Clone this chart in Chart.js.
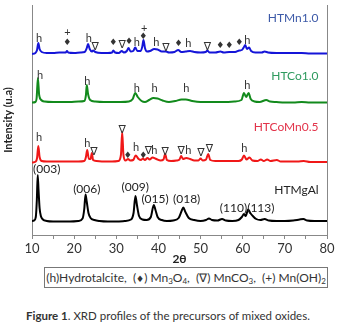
<!DOCTYPE html>
<html>
<head>
<meta charset="utf-8">
<script src="https://cdn.jsdelivr.net/npm/chart.js@4/dist/chart.umd.min.js"></script>
<style>
  body { margin: 0; background: #fff; }
  #wrap { position: relative; width: 340px; height: 333px; font-family: Lato, "Open Sans", sans-serif; color: #333; }
  #legend-box { position: absolute; left: 44px; top: 267px; width: 282px; height: 19px; border: 1px solid #777;
    font-size: 12px; line-height: 19px; white-space: pre; text-align: center; color: #333; }
  #legend-box sub { font-size: 8px; vertical-align: -2px; line-height: 0; }
  #caption { position: absolute; left: 26px; top: 309px; font-size: 11.5px; color: #333; white-space: pre; }
</style>
</head>
<body>
<div id="wrap">
  <canvas id="xrd" width="340" height="266"></canvas>
  <div id="legend-box">(h)Hydrotalcite,  (<span style="font-family:'DejaVu Sans';font-size:9px">♦</span>) Mn<sub>3</sub>O<sub>4</sub>,  (∇) MnCO<sub>3</sub>,  (+) Mn(OH)<sub>2</sub></div>
  <div id="caption"><b>Figure 1</b>. XRD profiles of the precursors of mixed oxides.</div>
</div>
<script>
// 2θ / intensity (a.u., stacked) pairs
const htmn10 = [
  [10,181],[10.8,182],[11.2,185],[11.5,192],[11.8,186],[12.3,183],[13.5,182],[15,182],[16.5,182.5],
  [18,182.5],[18.3,184],[18.6,182.5],[20,182],[21.5,182.5],[22.5,183],[23,187],[23.3,191],[23.7,186],
  [24.2,183.5],[24.5,184.5],[25,183],[26.5,182],[28,182],[29,182.5],[29.3,184.5],[29.7,182.5],[30.6,182],
  [31.3,184],[31.8,182.5],[32.5,184],[32.9,187],[33.4,183.5],[34,184],[34.5,187.5],[35,184],[35.8,184],
  [36.2,189],[36.45,195],[36.8,187],[37.3,183.5],[38,184],[39,186],[39.8,185.5],[40.8,183.5],[41.8,183.5],
  [42.5,182.5],[43.8,183],[44.7,185],[45.4,183],[46.5,183.5],[47.5,184],[48.5,183],[50,182.5],[51.2,183],
  [51.6,184.5],[52.1,182.5],[53.5,182.5],[54.7,183.5],[55.5,182.5],[56.8,183],[58.2,183],[59.2,184.5],
  [59.8,185],[60.3,188],[60.6,190],[61,186],[61.5,187.5],[62,184],[63,182.5],[64.5,182.5],[65.2,183.5],
  [66,182.5],[68,182],[70,182],[72,182],[74,182],[76,181.5],[78,181.5],[80,181.5]
];
const htco10 = [
  [10,132.5],[10.8,133],[11.1,137],[11.4,157],[11.7,140],[12.2,135],[13,133.5],[15,133],[17,133],[19,133],
  [21,133.5],[22.4,134],[22.8,140],[23,150],[23.3,141],[23.8,135],[25,133.5],[27,133],[29,133],[31,133],
  [33,133.5],[33.9,136],[34.5,142],[35.1,138],[36,134],[36.8,133],[37.8,135],[38.8,137],[39.8,136.5],
  [41,134.5],[42.5,133],[44,134],[45.5,135.5],[46.5,135.5],[48,134],[50,133],[52,133],[54,133],[56,133],
  [58,133.5],[59.7,135],[60.3,142],[60.8,138],[61.4,142],[61.9,136],[62.8,133.5],[64,133],[65.6,135],
  [66.5,133.5],[68,133],[70,132.5],[72,132.5],[74,133],[76,132.5],[78,132.5],[80,132.5]
];
const htcomn05 = [
  [10,72.5],[10.9,73.5],[11.2,77],[11.5,89],[11.8,78],[12.3,74],[13.5,73.5],[15,73.5],[17,73.5],[19,73.5],
  [21,73.5],[22.4,74],[22.8,78],[23.1,85],[23.5,76],[23.9,76],[24.2,82],[24.5,75],[25.3,74],[27,73.5],
  [29,73.5],[30.5,74],[31.1,80],[31.4,103],[31.7,80],[32.2,74.5],[32.8,76],[33.3,74.5],[34,75],[34.6,79.5],
  [35.3,76],[35.9,75],[36.3,76.5],[36.8,75],[37.4,77],[37.9,75.5],[38.6,77.5],[39.5,76],[40.5,74.5],
  [41.2,75.5],[41.6,81],[42,75],[43,74],[44.3,74.5],[45,75.5],[45.4,79],[45.8,76],[46.6,77],[47.5,76],
  [48.5,74.5],[49.5,74.5],[50,76.5],[50.5,74.5],[51.3,75.5],[51.8,81],[52.3,75],[53.5,74],[55,74],[57,74],
  [59,74],[59.8,75.5],[60.3,79.5],[60.9,75.5],[61.6,77.5],[62.3,74.5],[63.5,74],[64.3,75.5],[65,74],
  [65.8,75.5],[66.6,74],[68.1,75],[69,73.5],[71,73.5],[73,73.5],[74.5,74],[76,73],[78,73],[80,73]
];
const htmgal = [
  [10,14],[10.5,14.5],[10.9,18],[11.15,35],[11.35,60],[11.55,45],[11.8,27],[12.1,19],[12.6,15.5],[13.5,14],
  [15,13.5],[17,13.5],[19,13.5],[21,14],[22,16.5],[22.4,26],[22.7,40.5],[23,33],[23.4,22],[23.9,17],
  [24.8,15],[26,14],[28,13.5],[30,13.5],[32,14],[33.5,15.5],[34.1,22],[34.55,39],[34.9,30],[35.4,19],
  [36.2,15.5],[37.2,15],[38.2,18],[38.9,30],[39.3,25],[39.8,18],[40.8,15],[42,14],[43.5,14.5],[44.8,17],
  [45.5,24],[45.9,27.5],[46.4,23],[47.2,17],[48.5,15],[50,14],[51.3,15],[52,16.5],[52.7,15],[54,14.5],
  [55.1,16],[56,14.5],[57.5,14],[59,15],[59.8,18],[60.3,21],[60.7,19],[61.3,25.5],[61.8,22],[62.4,19],
  [63.2,16],[64.2,15],[65.2,16],[66.2,14.5],[68,14],[70,14],[72,14.5],[73.5,15.5],[74.4,16],[75.3,14.5],
  [77,14],[79,14],[80,14]
];

const seriesNames = ["HTMn1.0", "HTCo1.0", "HTCoMn0.5", "HTMgAl"];
const nameLevels = [217, 159, 108, 45];
const xTicks = [10, 20, 30, 40, 50, 60, 70, 80];

// phase markers: [2θ, level, symbol]
const marksMn = [
  [11.7,197,"h"],[18.4,203,"+"],[18.4,192,"♦"],[23.5,197,"h"],[25.0,188,"∇"],[29.3,192,"♦"],[31.4,190,"∇"],
  [33.0,193,"♦"],[34.9,193,"h"],[36.6,207,"+"],[36.4,198,"♦"],[39.5,193,"h"],[41.8,187,"∇"],[44.8,191,"♦"],
  [47.1,192,"h"],[51.6,188,"∇"],[54.7,189,"♦"],[56.8,189,"♦"],[59.2,192,"♦"],[61.1,195,"h"]
];
const marksCo = [[11.9,160,"h"],[23.1,154,"h"],[34.9,147,"h"],[39.1,147,"h"],[46.6,147,"h"],[61.1,150,"h"]];
const marksCoMn = [
  [11.7,98,"h"],[23.1,92,"h"],[24.7,83,"∇"],[31.4,105,"∇"],[32.7,79,"♦"],[34.7,88,"h"],[36.4,79,"♦"],
  [37.6,84,"∇"],[39.0,85,"h"],[41.6,83,"∇"],[45.4,84,"∇"],[47.1,85,"h"],[50.1,82,"∇"],[52.1,86,"∇"],[60.4,87,"h"]
];
const millerIdx = [
  [13.5,66,"(003)"],[23.0,46,"(006)"],[34.5,48,"(009)"],[39.2,36,"(015)"],[46.7,36,"(018)"],
  [57.8,27,"(110)"],[64.3,27,"(113)"]
];

const lineColors = ["#1515d8", "#128a1c", "#f01818", "#000000"];
const nameColors = ["#3d5aa8", "#2e9a5e", "#e2334a", "#222222"];

const toXY = (arr) => arr.map(([x, y]) => ({ x, y }));
const allSeries = [htmn10, htco10, htcomn05, htmgal];

const markPlugin = {
  id: "marks",
  afterDatasetsDraw(chart) {
    const { ctx, scales: { x, y } } = chart;
    ctx.save();
    ctx.textAlign = "center";
    ctx.textBaseline = "middle";
    const drawSet = (list, font, color) => {
      for (const [tx, ty, s] of list) {
        ctx.font = s === "♦" ? "9px 'DejaVu Sans'" : s === "∇" ? "11px 'DejaVu Sans'" : font;
        ctx.fillStyle = color;
        ctx.fillText(s, x.getPixelForValue(tx), y.getPixelForValue(ty));
      }
    };
    drawSet(marksMn, "11px Lato", "#333");
    drawSet(marksCo, "11px Lato", "#333");
    drawSet(marksCoMn, "11px Lato", "#333");
    drawSet(millerIdx, "12px Lato", "#222");
    ctx.textAlign = "right";
    ctx.font = "12px Lato";
    seriesNames.forEach((n, i) => {
      ctx.fillStyle = nameColors[i];
      ctx.fillText(n, x.getPixelForValue(78), y.getPixelForValue(nameLevels[i]));
    });
    ctx.restore();
  }
};

new Chart(document.getElementById("xrd"), {
  type: "line",
  data: {
    datasets: allSeries.map((s, i) => ({
      label: seriesNames[i],
      data: toXY(s),
      borderColor: lineColors[i],
      borderWidth: 2,
      pointRadius: 0,
      fill: false,
      cubicInterpolationMode: "monotone",
    })),
  },
  options: {
    responsive: false,
    animation: false,
    devicePixelRatio: 1,
    layout: { padding: { top: 5 } },
    plugins: { legend: { display: false }, tooltip: { enabled: false } },
    scales: {
      x: {
        type: "linear",
        min: 10,
        max: 80,
        afterFit: (s) => { s.height = 31; },
        ticks: {
          stepSize: 5,
          autoSkip: false,
          maxRotation: 0,
          padding: 2,
          color: "#333",
          font: { family: "Lato", size: 13 },
          callback: (v) => (xTicks.includes(v) ? v : ""),
        },
        grid: { drawOnChartArea: false, tickLength: 4, color: "#888" },
        border: { color: "#888" },
        title: { display: true, text: "2θ", color: "#222", padding: { top: 0, bottom: 0 },
          font: { family: "Lato", size: 12, weight: "bold" } },
      },
      y: {
        min: 0,
        max: 230,
        afterFit: (s) => { s.width = 32; },
        ticks: { display: false },
        grid: { display: false },
        border: { color: "#888" },
        title: { display: true, text: "Intensity (u.a)", color: "#222", padding: { top: 2, bottom: 0 },
          font: { family: "Lato", size: 11, weight: "bold" } },
      },
      y2: {
        position: "right",
        min: 0,
        max: 230,
        afterFit: (s) => { s.width = 13; },
        ticks: { display: false },
        grid: { display: false },
        border: { color: "#888" },
      },
    },
  },
  plugins: [markPlugin],
});
</script>
</body>
</html>
